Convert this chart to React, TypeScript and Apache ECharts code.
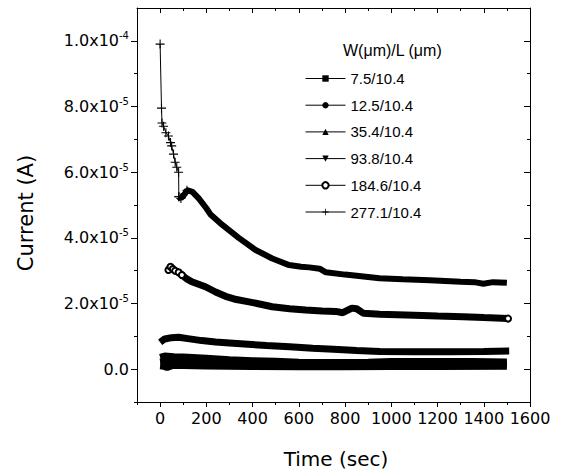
import React, { useEffect, useRef } from 'react';
import * as echarts from 'echarts';

const seriesNames = ['7.5/10.4', '12.5/10.4', '35.4/10.4', '93.8/10.4', '184.6/10.4', '277.1/10.4'];
const legendTitle = 'W(\u03bcm)/L (\u03bcm)';
const xTitle = 'Time (sec)';
const yTitle = 'Current (A)';

const xMajorTicks = [0, 200, 400, 600, 800, 1000, 1200, 1400, 1600];
const xMinorTicks = [-100, 100, 300, 500, 700, 900, 1100, 1300, 1500];
const yMajorTicks = [0, 2e-5, 4e-5, 6e-5, 8e-5, 1e-4];
const yMinorTicks = [-1e-5, 1e-5, 3e-5, 5e-5, 7e-5, 9e-5];
const yTickMantissa = ['0.0', '2.0x10', '4.0x10', '6.0x10', '8.0x10', '1.0x10'];
const yTickExponent = ['', '-5', '-5', '-5', '-5', '-4'];

const t75 = [0, 15, 30, 45, 60, 100, 200, 400, 600, 800, 1000, 1200, 1500];
const c75 = [1.0e-6, 0.9e-6, 0.5e-6, 0.9e-6, 1.2e-6, 1.1e-6, 1.0e-6, 0.8e-6, 0.7e-6, 0.7e-6, 0.8e-6, 0.8e-6, 0.9e-6];

const t125 = [0, 30, 100, 300, 500, 700, 900, 1100, 1300, 1500];
const c125 = [2.2e-6, 2.5e-6, 2.3e-6, 1.9e-6, 1.6e-6, 1.4e-6, 1.4e-6, 1.5e-6, 1.5e-6, 1.5e-6];

const t354 = [0, 20, 60, 100, 200, 300, 400, 500, 600, 700, 800, 900, 1000, 1200, 1350, 1500];
const c354 = [3.6e-6, 4.0e-6, 3.8e-6, 3.7e-6, 3.3e-6, 2.9e-6, 2.6e-6, 2.4e-6, 2.1e-6, 2.0e-6, 2.0e-6, 2.1e-6, 2.3e-6, 2.3e-6, 2.3e-6, 2.2e-6];

const t938 = [0, 20, 50, 80, 120, 180, 240, 300, 380, 460, 560, 660, 750, 850, 950, 1100, 1250, 1400, 1510];
const c938 = [8.2e-6, 9.2e-6, 9.6e-6, 9.7e-6, 9.3e-6, 8.7e-6, 8.3e-6, 8.0e-6, 7.6e-6, 7.2e-6, 6.8e-6, 6.4e-6, 6.1e-6, 5.7e-6, 5.4e-6, 5.3e-6, 5.3e-6, 5.4e-6, 5.5e-6];

const t1846 = [36, 45, 55, 65, 80, 94, 115, 137, 196, 240, 283, 330, 384, 440, 485, 560, 630, 700, 760, 790, 830, 850, 880, 950, 1100, 1200, 1310, 1400, 1505];
const c1846 = [3.02e-5, 3.12e-5, 3.05e-5, 3.0e-5, 2.95e-5, 2.87e-5, 2.75e-5, 2.66e-5, 2.51e-5, 2.35e-5, 2.22e-5, 2.12e-5, 2.05e-5, 1.97e-5, 1.9e-5, 1.84e-5, 1.8e-5, 1.77e-5, 1.76e-5, 1.72e-5, 1.86e-5, 1.84e-5, 1.7e-5, 1.67e-5, 1.64e-5, 1.62e-5, 1.6e-5, 1.57e-5, 1.54e-5];

const t2771a = [0, 6, 8, 15, 25, 36, 45, 50, 58, 65, 72, 80, 81];
const c2771a = [9.9e-5, 7.95e-5, 7.5e-5, 7.4e-5, 7.2e-5, 7.1e-5, 6.9e-5, 6.8e-5, 6.55e-5, 6.3e-5, 6.15e-5, 6.0e-5, 5.25e-5];

const t2771b = [81, 90, 108, 116, 140, 167, 200, 217, 268, 340, 413, 485, 558, 610, 645, 690, 717, 800, 870, 949, 1050, 1167, 1300, 1360, 1398, 1440, 1500];
const c2771b = [5.25e-5, 5.2e-5, 5.35e-5, 5.45e-5, 5.4e-5, 5.2e-5, 4.9e-5, 4.72e-5, 4.4e-5, 4.0e-5, 3.63e-5, 3.37e-5, 3.17e-5, 3.12e-5, 3.1e-5, 3.06e-5, 2.95e-5, 2.88e-5, 2.83e-5, 2.77e-5, 2.74e-5, 2.71e-5, 2.66e-5, 2.65e-5, 2.6e-5, 2.65e-5, 2.63e-5];

const zip = (t: number[], c: number[]) => t.map((x, i) => [x, c[i]]);

const PLUS = 'path://M4.4,0H5.6V4.4H10V5.6H5.6V10H4.4V5.6H0V4.4H4.4Z';
const TICK_FONT = 'DejaVu Sans';
const BLACK = '#000000';
const W = 566;
const H = 473;
const G_LEFT = 137;
const G_RIGHT = 36;
const G_TOP = 8;
const G_BOTTOM = 71;

function axisLineOn() {
  return { show: true, onZero: false, lineStyle: { color: BLACK, width: 1 } };
}
function axisLineOff() {
  return { show: false, onZero: false };
}
function tick(inside: boolean, length: number, values: number[]) {
  return { show: true, inside, length, customValues: values, lineStyle: { color: BLACK, width: 1 } };
}
function xBase(gridIndex: number, position: string) {
  return { type: 'value', gridIndex, position, min: -100, max: 1600, splitLine: { show: false } };
}
function yBase(gridIndex: number, position: string) {
  return { type: 'value', gridIndex, position, min: -1e-5, max: 1.1e-4, splitLine: { show: false } };
}

function yLabel(v: number) {
  let idx = 0;
  let best = Infinity;
  yMajorTicks.forEach((t, i) => {
    const d = Math.abs(t - v);
    if (d < best) {
      best = d;
      idx = i;
    }
  });
  const m = yTickMantissa[idx];
  const s = yTickExponent[idx];
  return s ? `{m|${m}}{s|${s}}` : `{m|${m}}`;
}

function buildOption() {
  const xAxis = [
    {
      ...xBase(0, 'bottom'),
      axisLine: axisLineOn(),
      axisTick: tick(false, 5, xMajorTicks),
      axisLabel: {
        show: true,
        customValues: xMajorTicks,
        formatter: (v: number) => String(Math.round(v)),
        color: BLACK,
        fontFamily: TICK_FONT,
        fontSize: 16,
        margin: 8,
      },
    },
    { ...xBase(0, 'top'), axisLine: axisLineOn(), axisTick: tick(true, 5, xMajorTicks), axisLabel: { show: false } },
    { ...xBase(1, 'bottom'), axisLine: axisLineOff(), axisTick: tick(false, 3, xMinorTicks), axisLabel: { show: false } },
    { ...xBase(1, 'top'), axisLine: axisLineOff(), axisTick: tick(true, 3, xMinorTicks), axisLabel: { show: false } },
  ];

  const yAxis = [
    {
      ...yBase(0, 'left'),
      axisLine: axisLineOn(),
      axisTick: tick(false, 6, yMajorTicks),
      axisLabel: {
        show: true,
        customValues: yMajorTicks,
        margin: 8,
        formatter: yLabel,
        rich: {
          m: { fontFamily: TICK_FONT, fontSize: 16, color: BLACK, lineHeight: 20 },
          s: { fontFamily: TICK_FONT, fontSize: 10, color: BLACK, lineHeight: 10, verticalAlign: 'top' },
        },
      },
    },
    { ...yBase(0, 'right'), axisLine: axisLineOn(), axisTick: tick(true, 6, yMajorTicks), axisLabel: { show: false } },
    { ...yBase(1, 'left'), axisLine: axisLineOff(), axisTick: tick(false, 3, yMinorTicks), axisLabel: { show: false } },
    { ...yBase(1, 'right'), axisLine: axisLineOff(), axisTick: tick(true, 3, yMinorTicks), axisLabel: { show: false } },
  ];

  const common = () => ({
    type: 'line',
    xAxisIndex: 0,
    yAxisIndex: 0,
    color: BLACK,
    itemStyle: { color: BLACK },
    z: 3,
  });

  const marker184 = new Set([0, 1, 2, 3, 4, 5, t1846.length - 1]);

  const series: any[] = [
    { ...common(), name: seriesNames[0], data: zip(t75, c75), symbol: 'rect', showSymbol: false, lineStyle: { color: BLACK, width: 7 } },
    { ...common(), name: seriesNames[1], data: zip(t125, c125), symbol: 'circle', showSymbol: false, lineStyle: { color: BLACK, width: 7 } },
    { ...common(), name: seriesNames[2], data: zip(t354, c354), symbol: 'triangle', showSymbol: false, lineStyle: { color: BLACK, width: 7 } },
    { ...common(), name: seriesNames[3], data: zip(t938, c938), symbol: 'triangle', symbolRotate: 180, showSymbol: false, lineStyle: { color: BLACK, width: 7 } },
    {
      ...common(),
      name: seriesNames[4],
      data: zip(t1846, c1846),
      symbol: 'emptyCircle',
      showSymbol: true,
      symbolSize: (_v: any, p: any) => (marker184.has(p.dataIndex) ? 6 : 0),
      itemStyle: { color: BLACK, borderWidth: 1.5 },
      lineStyle: { color: BLACK, width: 7 },
      z: 4,
    },
    {
      ...common(),
      name: seriesNames[5],
      data: zip(t2771a, c2771a),
      symbol: PLUS,
      symbolSize: 9,
      showSymbol: true,
      lineStyle: { color: BLACK, width: 1 },
      z: 5,
    },
    {
      ...common(),
      name: seriesNames[5],
      data: zip(t2771b, c2771b),
      symbol: PLUS,
      symbolSize: (_v: any, p: any) => (p.dataIndex < 4 ? 9 : 0),
      showSymbol: true,
      lineStyle: { color: BLACK, width: 6 },
      z: 5,
    },
  ];

  const gridRect = { left: G_LEFT, right: G_RIGHT, top: G_TOP, bottom: G_BOTTOM, containLabel: false };

  return {
    animation: false,
    backgroundColor: '#ffffff',
    grid: [{ ...gridRect }, { ...gridRect }],
    xAxis,
    yAxis,
    legend: {
      data: seriesNames,
      orient: 'vertical',
      left: 305,
      top: 71,
      padding: 0,
      itemWidth: 40,
      itemHeight: 8,
      itemGap: 11.7,
      selectedMode: false,
      lineStyle: { width: 1 },
      textStyle: { fontFamily: 'Liberation Sans', fontSize: 15, color: BLACK },
    },
    graphic: [
      {
        type: 'rect',
        z: 50,
        silent: true,
        shape: { x: G_LEFT + 0.5, y: G_TOP + 0.5, width: W - G_LEFT - G_RIGHT, height: H - G_TOP - G_BOTTOM },
        style: { fill: 'none', stroke: BLACK, lineWidth: 1 },
      },
      {
        type: 'text',
        left: 343,
        top: 42,
        style: { text: legendTitle, fontFamily: 'Liberation Sans', fontSize: 16, fill: BLACK },
      },
      {
        type: 'text',
        x: 336,
        y: 459,
        style: { text: xTitle, fontFamily: TICK_FONT, fontSize: 20, fill: BLACK, align: 'center', verticalAlign: 'middle' },
      },
      {
        type: 'text',
        x: 26,
        y: 213,
        rotation: Math.PI / 2,
        style: { text: yTitle, fontFamily: TICK_FONT, fontSize: 21, fill: BLACK, align: 'center', verticalAlign: 'middle' },
      },
    ],
    series,
  };
}

export default function App() {
  const ref = useRef<HTMLDivElement>(null);
  useEffect(() => {
    if (!ref.current) return;
    const chart = echarts.init(ref.current, null, { renderer: 'svg' });
    chart.setOption(buildOption() as any);
    return () => chart.dispose();
  }, []);
  return (
    <div
      ref={ref}
      style={{ position: 'fixed', left: 0, top: 0, width: W, height: H, background: '#fff' }}
    />
  );
}
